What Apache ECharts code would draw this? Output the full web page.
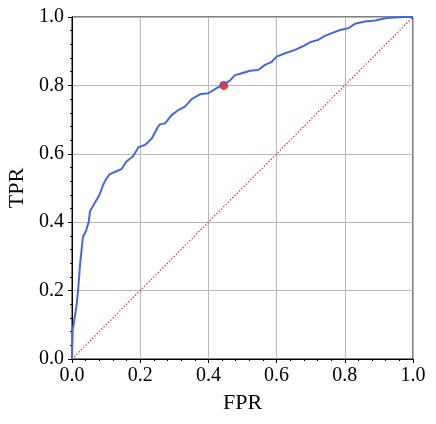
<!DOCTYPE html>
<html>
<head>
<meta charset="utf-8">
<script src="https://cdn.jsdelivr.net/npm/echarts@6/dist/echarts.min.js"></script>
<style>
  html, body { margin: 0; padding: 0; background: #fff; }
  #chart { width: 436px; height: 424px; }
</style>
</head>
<body>
<div id="chart"></div>
<script>
// ROC curve
const fpr = [0, 0.002, 0.006, 0.013, 0.018, 0.023, 0.029, 0.032, 0.042, 0.049, 0.053, 0.066,
  0.081, 0.091, 0.098, 0.110, 0.130, 0.145, 0.159, 0.179, 0.195, 0.214, 0.234, 0.253, 0.258,
  0.273, 0.292, 0.312, 0.331, 0.351, 0.375, 0.400, 0.424, 0.444, 0.463, 0.478, 0.493, 0.522,
  0.546, 0.566, 0.586, 0.600, 0.625, 0.654, 0.674, 0.698, 0.722, 0.742, 0.762, 0.786, 0.810,
  0.830, 0.859, 0.889, 0.923, 0.972, 1.0];
const tpr = [0, 0.085, 0.109, 0.153, 0.202, 0.270, 0.328, 0.356, 0.377, 0.401, 0.433, 0.455,
  0.481, 0.508, 0.523, 0.540, 0.549, 0.555, 0.577, 0.593, 0.619, 0.626, 0.645, 0.680, 0.686,
  0.689, 0.713, 0.728, 0.738, 0.760, 0.774, 0.777, 0.792, 0.802, 0.814, 0.830, 0.834, 0.843,
  0.845, 0.860, 0.869, 0.884, 0.894, 0.904, 0.913, 0.926, 0.933, 0.945, 0.953, 0.962, 0.967,
  0.980, 0.987, 0.990, 0.997, 1.0, 1.0];
const chance = [[0, 0], [1, 1]];
const operatingPoint = [0.445, 0.80];

const font = '"Liberation Serif", "DejaVu Serif", serif';

const axisCommon = {
  type: 'value',
  min: 0,
  max: 1,
  interval: 0.2,
  nameLocation: 'middle',
  nameTextStyle: { fontFamily: font, fontSize: 22, color: '#000' },
  axisLine: { show: true, onZero: false, lineStyle: { color: '#000', width: 1 } },
  axisTick: { show: true, inside: false, length: 4, lineStyle: { color: '#000', width: 1 } },
  minorTick: { show: true, splitNumber: 5, length: 2, lineStyle: { color: '#000', width: 1 } },
  splitLine: { show: true, lineStyle: { color: '#b8b8b8', width: 1 } },
  axisLabel: {
    fontFamily: font, fontSize: 20, color: '#000',
    formatter: v => v.toFixed(1)
  }
};

const chart = echarts.init(document.getElementById('chart'));
chart.setOption({
  animation: false,
  grid: {
    left: 72, right: 23, top: 17, bottom: 65,
    outerBoundsMode: 'none',
    show: true, borderColor: '#000', borderWidth: 1
  },
  xAxis: {
    ...axisCommon,
    name: 'FPR',
    nameGap: 33,
    axisLabel: { ...axisCommon.axisLabel, margin: 7 }
  },
  yAxis: {
    ...axisCommon,
    name: 'TPR',
    nameGap: 43,
    axisLabel: { ...axisCommon.axisLabel, margin: 8 }
  },
  series: [
    {
      type: 'line',
      data: chance,
      symbol: 'none',
      lineStyle: { color: '#ff0000', width: 1.2, type: [1.2, 2] },
      z: 2
    },
    {
      type: 'scatter',
      data: [operatingPoint],
      symbolSize: 9,
      itemStyle: { color: '#ff0000' },
      z: 3
    },
    {
      type: 'line',
      data: fpr.map((x, i) => [x, tpr[i]]),
      symbol: 'none',
      lineStyle: { color: '#4169e1', width: 2 },
      z: 4
    }
  ]
});
</script>
</body>
</html>
